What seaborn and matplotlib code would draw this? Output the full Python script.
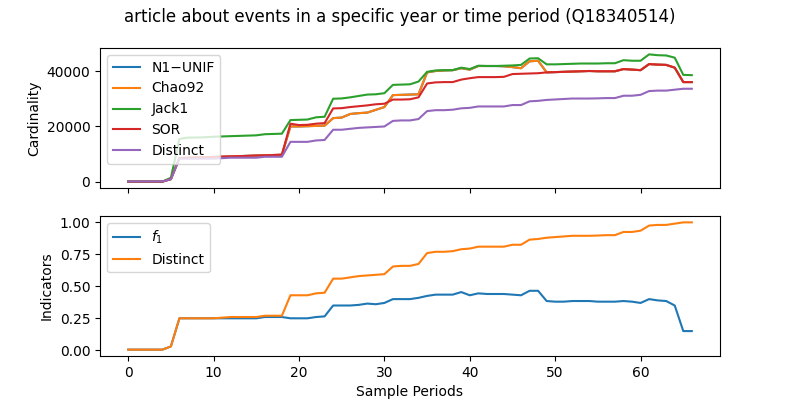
import numpy as np
import pandas as pd
import matplotlib
matplotlib.use("Agg")
import matplotlib.pyplot as plt
import seaborn as sns

periods = list(range(67))

distinct_frac = [0.005]*5 + [0.03] + [0.25]*5 + [0.255, 0.26, 0.26, 0.26, 0.26] + [0.27]*3 + \
    [0.43]*3 + [0.445, 0.45, 0.56, 0.56, 0.57, 0.58, 0.585, 0.59, 0.595, 0.655, 0.66, 0.66, 0.675,
    0.76, 0.77, 0.77, 0.775, 0.79, 0.795, 0.81, 0.81, 0.81, 0.81, 0.825, 0.825, 0.865, 0.87, 0.88,
    0.885, 0.89, 0.895, 0.895, 0.895, 0.897, 0.9, 0.9, 0.925, 0.925, 0.935, 0.975, 0.98, 0.98, 0.99,
    1.0, 1.0]

f1 = [0.005]*5 + [0.03] + [0.25]*10 + [0.26]*3 + [0.25]*3 + [0.26, 0.265, 0.35, 0.35, 0.35, 0.355,
    0.365, 0.36, 0.37, 0.4, 0.4, 0.4, 0.41, 0.425, 0.435, 0.435, 0.435, 0.455, 0.43, 0.445, 0.44,
    0.44, 0.44, 0.435, 0.43, 0.465, 0.465, 0.385, 0.38, 0.38, 0.385, 0.385, 0.385, 0.38, 0.38, 0.38,
    0.385, 0.38, 0.37, 0.40, 0.39, 0.385, 0.35, 0.15, 0.15]

distinct = [round(v * 33600) for v in distinct_frac]

jack1 = [100]*5 + [1500, 15500, 16000, 16000, 16100, 16300, 16400, 16500, 16600, 16700, 16800,
    17200, 17300, 17400, 22300, 22400, 22500, 23300, 23500, 30000, 30100, 30500, 31000, 31500,
    31600, 32000, 35000, 35100, 35200, 36200, 39700, 40200, 40300, 40300, 41200, 40700, 41900,
    41800, 41800, 41900, 42000, 42200, 44500, 44600, 42400, 42400, 42500, 42600, 42700, 42700,
    42700, 42800, 42800, 43900, 43700, 43700, 46000, 45700, 45600, 44800, 38600, 38500]

sor = [100]*5 + [1000, 8600, 8700, 8800, 8900, 9000, 9100, 9200, 9300, 9400, 9500, 9600, 9700,
    9800, 21000, 20500, 20600, 21000, 21200, 26500, 26600, 27000, 27300, 27600, 28000, 28200,
    29700, 29700, 29800, 30500, 35500, 35900, 36000, 36000, 36900, 37400, 37800, 37800, 37800,
    37900, 38900, 39000, 39100, 39200, 39500, 39600, 39700, 39800, 39900, 40000, 39900, 39900,
    39900, 40700, 40500, 40300, 42500, 42300, 42200, 41200, 36000, 36000]

chao92 = sor[:19] + [20000, 20000, 20100, 20200, 20300, 23000, 23200, 24500, 24800, 25000, 26000,
    27000, 31300, 31400, 31500, 31600, 39500, 40000, 40200, 40300, 41000, 40500, 41800, 41800,
    41800, 41700, 41400, 41000, 43500, 43700] + sor[49:]

n1_unif = list(chao92)

top = pd.DataFrame({"N1\u2212UNIF": n1_unif, "Chao92": chao92, "Jack1": jack1,
                    "SOR": sor, "Distinct": distinct}, index=periods)
bottom = pd.DataFrame({"$f_1$": f1, "Distinct": distinct_frac}, index=periods)

fig, (ax1, ax2) = plt.subplots(2, 1, figsize=(8, 4), dpi=100, sharex=True)
colors = ["#1f77b4", "#ff7f0e", "#2ca02c", "#d62728", "#9467bd"]
for col, c in zip(top.columns, colors):
    sns.lineplot(x=top.index, y=top[col], ax=ax1, color=c, label=col)
for col, c in zip(bottom.columns, colors):
    sns.lineplot(x=bottom.index, y=bottom[col], ax=ax2, color=c, label=col)

ax1.set_ylabel("Cardinality")
ax2.set_ylabel("Indicators")
ax2.set_xlabel("Sample Periods")
ax1.set_yticks([0, 20000, 40000])
ax2.set_yticks([0, 0.25, 0.5, 0.75, 1.0])
ax1.legend(loc="upper left")
ax2.legend(loc="upper left")
fig.suptitle("article about events in a specific year or time period (Q18340514)")
fig.savefig("out.png")
